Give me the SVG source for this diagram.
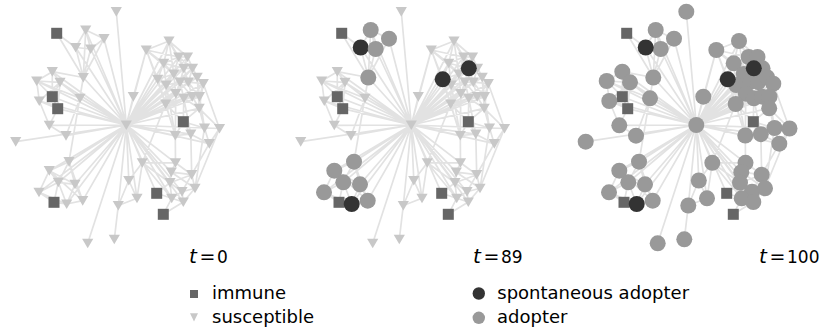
<svg xmlns="http://www.w3.org/2000/svg" xmlns:xlink="http://www.w3.org/1999/xlink" width="830" height="332" viewBox="0 0 830 332">
<style>
.edge{fill:none;stroke:#e2e2e2;stroke-width:1.7}
.su{fill:#c8c8c8}
.im{fill:#666}
.ad{fill:#999}
.sp{fill:#333}
.lbl{font-family:"DejaVu Sans",sans-serif;font-size:17px;fill:#000}
.tv{font-style:italic;font-size:20px}
.eq{font-size:19px}
.leg{font-family:"DejaVu Sans",sans-serif;font-size:18px;fill:#000}
</style>
<defs>
<path id="tri" d="M-5.6,-4.6H5.6L0,5Z"/>
<path id="edgeset" class="edge" d="M126.3 125L116.3 11.7M126.3 125L85.7 30M126.3 125L104 38.7M126.3 125L75.7 47.5M126.3 125L90.7 49M126.3 125L83.3 77.5M126.3 125L52.3 71.7M126.3 125L36.7 81M126.3 125L60 82.3M126.3 125L39.3 101M126.3 125L80 98.3M126.3 125L49.3 125.3M126.3 125L66 135.7M126.3 125L15.7 141.7M126.3 125L133.3 96.7M126.3 125L146.3 50M126.3 125L169 41M126.3 125L163.7 63.3M126.3 125L178.7 57M126.3 125L183.8 68.3M126.3 125L173.8 74M126.3 125L157.7 79.3M126.3 125L166.2 85M126.3 125L180 82.2M126.3 125L197.2 77.3M126.3 125L203.3 83.7M126.3 125L175.8 93.7M126.3 125L183.8 98.3M126.3 125L165.7 104M126.3 125L199.2 108.3M126.3 125L204.5 128M126.3 125L219.5 128.5M126.3 125L209.3 143.7M126.3 125L175.3 135.5M126.3 125L190.8 134.2M126.3 125L69 161.7M126.3 125L49.3 170.7M126.3 125L58.3 182.3M126.3 125L75 184.3M126.3 125L39 192.3M126.3 125L66.7 204M126.3 125L82.7 200.7M126.3 125L87.7 243.3M126.3 125L118.3 205.5M126.3 125L128.8 180.5M126.3 125L137 198.3M126.3 125L142.3 162.8M126.3 125L175.5 162.8M126.3 125L171.3 172.2M126.3 125L170 182.7M126.3 125L182 191.7M126.3 125L171.7 198.3M126.3 125L183.3 202M126.3 125L52.3 96.7M126.3 125L57.7 108.7M126.3 125L156.7 193.3M126.3 125L187.5 57M126.3 125L192.5 68.3M126.3 125L188.3 82.2M126.3 125L192.2 96.7M126.3 125L199.5 96.7
M85.7 30L104 38.7M85.7 30L75.7 47.5M85.7 30L90.7 49M104 38.7L90.7 49M75.7 47.5L90.7 49M75.7 47.5L83.3 77.5M90.7 49L83.3 77.5M104 38.7L83.3 77.5M56.7 33.3L75.7 47.5M56.7 33.3L83.3 77.5M85.7 30L83.3 77.5
M52.3 71.7L36.7 81M52.3 71.7L60 82.3M36.7 81L60 82.3M36.7 81L39.3 101M60 82.3L39.3 101M52.3 71.7L52.3 96.7M36.7 81L52.3 96.7M60 82.3L52.3 96.7M39.3 101L57.7 108.7M60 82.3L57.7 108.7M52.3 96.7L57.7 108.7M39.3 101L49.3 125.3M49.3 125.3L66 135.7M57.7 108.7L49.3 125.3M60 82.3L80 98.3M80 98.3L66 135.7M83.3 77.5L69 161.7M36.7 81L80 98.3M52.3 71.7L83.3 77.5
M146.3 50L169 41M146.3 50L163.7 63.3M146.3 50L157.7 79.3M169 41L163.7 63.3M169 41L178.7 57M169 41L187.5 57M169 41L173.8 74M163.7 63.3L178.7 57M163.7 63.3L183.8 68.3M163.7 63.3L173.8 74M163.7 63.3L157.7 79.3M178.7 57L187.5 57M178.7 57L183.8 68.3M187.5 57L192.5 68.3M183.8 68.3L192.5 68.3M183.8 68.3L173.8 74M183.8 68.3L180 82.2M192.5 68.3L197.2 77.3M192.5 68.3L188.3 82.2M173.8 74L166.2 85M173.8 74L180 82.2M157.7 79.3L166.2 85M166.2 85L175.8 93.7M166.2 85L165.7 104M180 82.2L188.3 82.2M180 82.2L175.8 93.7M188.3 82.2L197.2 77.3M188.3 82.2L192.2 96.7M197.2 77.3L203.3 83.7M203.3 83.7L199.5 96.7M175.8 93.7L183.8 98.3M183.8 98.3L192.2 96.7M192.2 96.7L199.5 96.7M199.5 96.7L199.2 108.3M165.7 104L183.3 121.7M199.2 108.3L183.3 121.7M183.8 98.3L183.3 121.7M199.2 108.3L204.5 128M204.5 128L219.5 128.5M219.5 128.5L209.3 143.7M204.5 128L209.3 143.7M199.2 108.3L219.5 128.5M183.3 121.7L204.5 128M183.3 121.7L175.3 135.5M183.3 121.7L190.8 134.2M175.3 135.5L190.8 134.2M190.8 134.2L209.3 143.7M203.3 83.7L219.5 128.5M199.5 96.7L204.5 128M146.3 50L165.7 104M146.3 50L133.3 96.7M157.7 79.3L175.3 135.5M175.8 93.7L175.3 135.5M175.3 135.5L175.5 162.8M190.8 134.2L191.7 174.7M209.3 143.7L191.7 174.7M204.5 128L195 188.3M165.7 104L142.3 162.8
M146.3 50L178.7 57M146.3 50L173.8 74M169 41L183.8 68.3M163.7 63.3L166.2 85M178.7 57L173.8 74M178.7 57L192.5 68.3M187.5 57L183.8 68.3M187.5 57L197.2 77.3M183.8 68.3L188.3 82.2M192.5 68.3L180 82.2M173.8 74L175.8 93.7M157.7 79.3L175.8 93.7M157.7 79.3L165.7 104M166.2 85L180 82.2M180 82.2L183.8 98.3M180 82.2L192.2 96.7M188.3 82.2L203.3 83.7M188.3 82.2L199.5 96.7M197.2 77.3L199.5 96.7M203.3 83.7L192.2 96.7M175.8 93.7L165.7 104M183.8 98.3L165.7 104M192.2 96.7L199.2 108.3M183.8 98.3L199.2 108.3M175.8 93.7L192.2 96.7M173.8 74L157.7 79.3M166.2 85L183.8 98.3M163.7 63.3L180 82.2M203.3 83.7L199.2 108.3M197.2 77.3L199.2 108.3M165.7 104L175.3 135.5M166.2 85L175.3 135.5M183.8 98.3L190.8 134.2M219.5 128.5L195 188.3M209.3 143.7L182 191.7
M142.3 162.8L175.5 162.8M175.5 162.8L171.3 172.2M175.5 162.8L191.7 174.7M171.3 172.2L191.7 174.7M171.3 172.2L170 182.7M191.7 174.7L195 188.3M170 182.7L182 191.7M182 191.7L195 188.3M170 182.7L171.7 198.3M182 191.7L171.7 198.3M182 191.7L183.3 202M171.7 198.3L183.3 202M195 188.3L183.3 202M156.7 193.3L171.7 198.3M156.7 193.3L170 182.7M163.3 214.3L171.7 198.3M163.3 214.3L183.3 202M142.3 162.8L170 182.7M142.3 162.8L171.7 198.3M171.3 172.2L195 188.3M191.7 174.7L170 182.7
M114.3 239.3L118.3 205.5M118.3 205.5L137 198.3M137 198.3L128.8 180.5M137 198.3L142.3 162.8M118.3 205.5L128.8 180.5M128.8 180.5L142.3 162.8
M69 161.7L49.3 170.7M69 161.7L58.3 182.3M69 161.7L75 184.3M49.3 170.7L58.3 182.3M49.3 170.7L75 184.3M49.3 170.7L39 192.3M58.3 182.3L75 184.3M58.3 182.3L39 192.3M58.3 182.3L66.7 204M75 184.3L66.7 204M75 184.3L82.7 200.7M66.7 204L82.7 200.7M39 192.3L54 202.3M58.3 182.3L54 202.3M66.7 204L54 202.3M69 161.7L82.7 200.7M49.3 170.7L82.7 200.7M39 192.3L66.7 204"/>
</defs>
<rect width="830" height="332" fill="#fff"/>
<g id="connectors">
<use href="#edgeset"/>
<use href="#edgeset" transform="translate(285,0)"/>
<use href="#edgeset" transform="translate(570,0)"/>
</g>
<g id="panel-t0">
<g id="a-s1"><rect class="im" x="51.2" y="27.8" width="11" height="11"/></g>
<g id="a-s2"><rect class="im" x="46.8" y="91.2" width="11" height="11"/></g>
<g id="a-s3"><rect class="im" x="52.2" y="103.2" width="11" height="11"/></g>
<g id="a-s4"><rect class="im" x="177.8" y="116.2" width="11" height="11"/></g>
<g id="a-s5"><rect class="im" x="151.2" y="187.8" width="11" height="11"/></g>
<g id="a-s6"><rect class="im" x="157.8" y="208.8" width="11" height="11"/></g>
<g id="a-s7"><rect class="im" x="48.5" y="196.8" width="11" height="11"/></g>
<g id="a-n1"><use href="#tri" class="su" x="116.3" y="11.7"/></g>
<g id="a-n2"><use href="#tri" class="su" x="85.7" y="30"/></g>
<g id="a-n3"><use href="#tri" class="su" x="104" y="38.7"/></g>
<g id="a-n4"><use href="#tri" class="su" x="75.7" y="47.5"/></g>
<g id="a-n5"><use href="#tri" class="su" x="90.7" y="49"/></g>
<g id="a-n6"><use href="#tri" class="su" x="83.3" y="77.5"/></g>
<g id="a-n7"><use href="#tri" class="su" x="52.3" y="71.7"/></g>
<g id="a-n8"><use href="#tri" class="su" x="36.7" y="81"/></g>
<g id="a-n9"><use href="#tri" class="su" x="60" y="82.3"/></g>
<g id="a-n10"><use href="#tri" class="su" x="39.3" y="101"/></g>
<g id="a-n11"><use href="#tri" class="su" x="80" y="98.3"/></g>
<g id="a-n12"><use href="#tri" class="su" x="49.3" y="125.3"/></g>
<g id="a-n13"><use href="#tri" class="su" x="66" y="135.7"/></g>
<g id="a-n14"><use href="#tri" class="su" x="15.7" y="141.7"/></g>
<g id="a-hub"><use href="#tri" class="su" x="126.3" y="125"/></g>
<g id="a-n16"><use href="#tri" class="su" x="133.3" y="96.7"/></g>
<g id="a-n17"><use href="#tri" class="su" x="146.3" y="50"/></g>
<g id="a-n18"><use href="#tri" class="su" x="169" y="41"/></g>
<g id="a-n19"><use href="#tri" class="su" x="163.7" y="63.3"/></g>
<g id="a-n20"><use href="#tri" class="su" x="178.7" y="57"/></g>
<g id="a-n21"><use href="#tri" class="su" x="187.5" y="57"/></g>
<g id="a-n22"><use href="#tri" class="su" x="183.8" y="68.3"/></g>
<g id="a-n23"><use href="#tri" class="su" x="192.5" y="68.3"/></g>
<g id="a-n24"><use href="#tri" class="su" x="173.8" y="74"/></g>
<g id="a-n25"><use href="#tri" class="su" x="157.7" y="79.3"/></g>
<g id="a-n26"><use href="#tri" class="su" x="166.2" y="85"/></g>
<g id="a-n27"><use href="#tri" class="su" x="180" y="82.2"/></g>
<g id="a-n28"><use href="#tri" class="su" x="188.3" y="82.2"/></g>
<g id="a-n29"><use href="#tri" class="su" x="197.2" y="77.3"/></g>
<g id="a-n30"><use href="#tri" class="su" x="203.3" y="83.7"/></g>
<g id="a-n31"><use href="#tri" class="su" x="175.8" y="93.7"/></g>
<g id="a-n32"><use href="#tri" class="su" x="183.8" y="98.3"/></g>
<g id="a-n33"><use href="#tri" class="su" x="192.2" y="96.7"/></g>
<g id="a-n34"><use href="#tri" class="su" x="199.5" y="96.7"/></g>
<g id="a-n35"><use href="#tri" class="su" x="165.7" y="104"/></g>
<g id="a-n36"><use href="#tri" class="su" x="199.2" y="108.3"/></g>
<g id="a-n37"><use href="#tri" class="su" x="204.5" y="128"/></g>
<g id="a-n38"><use href="#tri" class="su" x="219.5" y="128.5"/></g>
<g id="a-n39"><use href="#tri" class="su" x="209.3" y="143.7"/></g>
<g id="a-n40"><use href="#tri" class="su" x="175.3" y="135.5"/></g>
<g id="a-n41"><use href="#tri" class="su" x="190.8" y="134.2"/></g>
<g id="a-n42"><use href="#tri" class="su" x="69" y="161.7"/></g>
<g id="a-n43"><use href="#tri" class="su" x="49.3" y="170.7"/></g>
<g id="a-n44"><use href="#tri" class="su" x="58.3" y="182.3"/></g>
<g id="a-n45"><use href="#tri" class="su" x="75" y="184.3"/></g>
<g id="a-n46"><use href="#tri" class="su" x="39" y="192.3"/></g>
<g id="a-n47"><use href="#tri" class="su" x="66.7" y="204"/></g>
<g id="a-n48"><use href="#tri" class="su" x="82.7" y="200.7"/></g>
<g id="a-n49"><use href="#tri" class="su" x="87.7" y="243.3"/></g>
<g id="a-n50"><use href="#tri" class="su" x="114.3" y="239.3"/></g>
<g id="a-n51"><use href="#tri" class="su" x="118.3" y="205.5"/></g>
<g id="a-n52"><use href="#tri" class="su" x="128.8" y="180.5"/></g>
<g id="a-n53"><use href="#tri" class="su" x="137" y="198.3"/></g>
<g id="a-n54"><use href="#tri" class="su" x="142.3" y="162.8"/></g>
<g id="a-n55"><use href="#tri" class="su" x="175.5" y="162.8"/></g>
<g id="a-n56"><use href="#tri" class="su" x="171.3" y="172.2"/></g>
<g id="a-n57"><use href="#tri" class="su" x="191.7" y="174.7"/></g>
<g id="a-n58"><use href="#tri" class="su" x="170" y="182.7"/></g>
<g id="a-n59"><use href="#tri" class="su" x="182" y="191.7"/></g>
<g id="a-n60"><use href="#tri" class="su" x="195" y="188.3"/></g>
<g id="a-n61"><use href="#tri" class="su" x="171.7" y="198.3"/></g>
<g id="a-n62"><use href="#tri" class="su" x="183.3" y="202"/></g>
</g>
<g id="panel-t89" transform="translate(285,0)">
<g id="b-s1"><rect class="im" x="51.2" y="27.8" width="11" height="11"/></g>
<g id="b-s2"><rect class="im" x="46.8" y="91.2" width="11" height="11"/></g>
<g id="b-s3"><rect class="im" x="52.2" y="103.2" width="11" height="11"/></g>
<g id="b-s4"><rect class="im" x="177.8" y="116.2" width="11" height="11"/></g>
<g id="b-s5"><rect class="im" x="151.2" y="187.8" width="11" height="11"/></g>
<g id="b-s6"><rect class="im" x="157.8" y="208.8" width="11" height="11"/></g>
<g id="b-s7"><rect class="im" x="48.5" y="196.8" width="11" height="11"/></g>
<g id="b-n1"><use href="#tri" class="su" x="116.3" y="11.7"/></g>
<g id="b-n7"><use href="#tri" class="su" x="52.3" y="71.7"/></g>
<g id="b-n8"><use href="#tri" class="su" x="36.7" y="81"/></g>
<g id="b-n9"><use href="#tri" class="su" x="60" y="82.3"/></g>
<g id="b-n10"><use href="#tri" class="su" x="39.3" y="101"/></g>
<g id="b-n11"><use href="#tri" class="su" x="80" y="98.3"/></g>
<g id="b-n12"><use href="#tri" class="su" x="49.3" y="125.3"/></g>
<g id="b-n13"><use href="#tri" class="su" x="66" y="135.7"/></g>
<g id="b-n14"><use href="#tri" class="su" x="15.7" y="141.7"/></g>
<g id="b-hub"><use href="#tri" class="su" x="126.3" y="125"/></g>
<g id="b-n16"><use href="#tri" class="su" x="133.3" y="96.7"/></g>
<g id="b-n17"><use href="#tri" class="su" x="146.3" y="50"/></g>
<g id="b-n18"><use href="#tri" class="su" x="169" y="41"/></g>
<g id="b-n19"><use href="#tri" class="su" x="163.7" y="63.3"/></g>
<g id="b-n20"><use href="#tri" class="su" x="178.7" y="57"/></g>
<g id="b-n21"><use href="#tri" class="su" x="187.5" y="57"/></g>
<g id="b-n23"><use href="#tri" class="su" x="192.5" y="68.3"/></g>
<g id="b-n24"><use href="#tri" class="su" x="173.8" y="74"/></g>
<g id="b-n26"><use href="#tri" class="su" x="166.2" y="85"/></g>
<g id="b-n27"><use href="#tri" class="su" x="180" y="82.2"/></g>
<g id="b-n28"><use href="#tri" class="su" x="188.3" y="82.2"/></g>
<g id="b-n29"><use href="#tri" class="su" x="197.2" y="77.3"/></g>
<g id="b-n30"><use href="#tri" class="su" x="203.3" y="83.7"/></g>
<g id="b-n31"><use href="#tri" class="su" x="175.8" y="93.7"/></g>
<g id="b-n32"><use href="#tri" class="su" x="183.8" y="98.3"/></g>
<g id="b-n33"><use href="#tri" class="su" x="192.2" y="96.7"/></g>
<g id="b-n34"><use href="#tri" class="su" x="199.5" y="96.7"/></g>
<g id="b-n35"><use href="#tri" class="su" x="165.7" y="104"/></g>
<g id="b-n36"><use href="#tri" class="su" x="199.2" y="108.3"/></g>
<g id="b-n37"><use href="#tri" class="su" x="204.5" y="128"/></g>
<g id="b-n38"><use href="#tri" class="su" x="219.5" y="128.5"/></g>
<g id="b-n39"><use href="#tri" class="su" x="209.3" y="143.7"/></g>
<g id="b-n40"><use href="#tri" class="su" x="175.3" y="135.5"/></g>
<g id="b-n41"><use href="#tri" class="su" x="190.8" y="134.2"/></g>
<g id="b-n49"><use href="#tri" class="su" x="87.7" y="243.3"/></g>
<g id="b-n50"><use href="#tri" class="su" x="114.3" y="239.3"/></g>
<g id="b-n51"><use href="#tri" class="su" x="118.3" y="205.5"/></g>
<g id="b-n52"><use href="#tri" class="su" x="128.8" y="180.5"/></g>
<g id="b-n53"><use href="#tri" class="su" x="137" y="198.3"/></g>
<g id="b-n54"><use href="#tri" class="su" x="142.3" y="162.8"/></g>
<g id="b-n55"><use href="#tri" class="su" x="175.5" y="162.8"/></g>
<g id="b-n56"><use href="#tri" class="su" x="171.3" y="172.2"/></g>
<g id="b-n57"><use href="#tri" class="su" x="191.7" y="174.7"/></g>
<g id="b-n58"><use href="#tri" class="su" x="170" y="182.7"/></g>
<g id="b-n59"><use href="#tri" class="su" x="182" y="191.7"/></g>
<g id="b-n60"><use href="#tri" class="su" x="195" y="188.3"/></g>
<g id="b-n61"><use href="#tri" class="su" x="171.7" y="198.3"/></g>
<g id="b-n62"><use href="#tri" class="su" x="183.3" y="202"/></g>
<g id="b-n2"><circle class="ad" cx="85.7" cy="30" r="8"/></g>
<g id="b-n3"><circle class="ad" cx="104" cy="38.7" r="8"/></g>
<g id="b-n4"><circle class="sp" cx="75.7" cy="47.5" r="8"/></g>
<g id="b-n5"><circle class="ad" cx="90.7" cy="49" r="8"/></g>
<g id="b-n6"><circle class="ad" cx="83.3" cy="77.5" r="8"/></g>
<g id="b-n42"><circle class="ad" cx="69" cy="161.7" r="8"/></g>
<g id="b-n43"><circle class="ad" cx="49.3" cy="170.7" r="8"/></g>
<g id="b-n44"><circle class="ad" cx="58.3" cy="182.3" r="8"/></g>
<g id="b-n45"><circle class="ad" cx="75" cy="184.3" r="8"/></g>
<g id="b-n46"><circle class="ad" cx="39" cy="192.3" r="8"/></g>
<g id="b-n48"><circle class="ad" cx="82.7" cy="200.7" r="8"/></g>
<g id="b-n47"><circle class="sp" cx="66.7" cy="204" r="8"/></g>
<g id="b-n22"><circle class="sp" cx="183.8" cy="68.3" r="8"/></g>
<g id="b-n25"><circle class="sp" cx="157.7" cy="79.3" r="8"/></g>
</g>
<g id="panel-t100" transform="translate(570,0)">
<g id="c-s1"><rect class="im" x="51.2" y="27.8" width="11" height="11"/></g>
<g id="c-s2"><rect class="im" x="46.8" y="91.2" width="11" height="11"/></g>
<g id="c-s3"><rect class="im" x="52.2" y="103.2" width="11" height="11"/></g>
<g id="c-s4"><rect class="im" x="177.8" y="116.2" width="11" height="11"/></g>
<g id="c-s5"><rect class="im" x="151.2" y="187.8" width="11" height="11"/></g>
<g id="c-s6"><rect class="im" x="157.8" y="208.8" width="11" height="11"/></g>
<g id="c-s7"><rect class="im" x="48.5" y="196.8" width="11" height="11"/></g>
<g id="c-n1"><circle class="ad" cx="116.3" cy="11.7" r="8"/></g>
<g id="c-n2"><circle class="ad" cx="85.7" cy="30" r="8"/></g>
<g id="c-n3"><circle class="ad" cx="104" cy="38.7" r="8"/></g>
<g id="c-n5"><circle class="ad" cx="90.7" cy="49" r="8"/></g>
<g id="c-n6"><circle class="ad" cx="83.3" cy="77.5" r="8"/></g>
<g id="c-n7"><circle class="ad" cx="52.3" cy="71.7" r="8"/></g>
<g id="c-n8"><circle class="ad" cx="36.7" cy="81" r="8"/></g>
<g id="c-n9"><circle class="ad" cx="60" cy="82.3" r="8"/></g>
<g id="c-n10"><circle class="ad" cx="39.3" cy="101" r="8"/></g>
<g id="c-n11"><circle class="ad" cx="80" cy="98.3" r="8"/></g>
<g id="c-n12"><circle class="ad" cx="49.3" cy="125.3" r="8"/></g>
<g id="c-n13"><circle class="ad" cx="66" cy="135.7" r="8"/></g>
<g id="c-n14"><circle class="ad" cx="15.7" cy="141.7" r="8"/></g>
<g id="c-hub"><circle class="ad" cx="126.3" cy="125" r="8"/></g>
<g id="c-n16"><circle class="ad" cx="133.3" cy="96.7" r="8"/></g>
<g id="c-n17"><circle class="ad" cx="146.3" cy="50" r="8"/></g>
<g id="c-n18"><circle class="ad" cx="169" cy="41" r="8"/></g>
<g id="c-n19"><circle class="ad" cx="163.7" cy="63.3" r="8"/></g>
<g id="c-n20"><circle class="ad" cx="178.7" cy="57" r="8"/></g>
<g id="c-n21"><circle class="ad" cx="187.5" cy="57" r="8"/></g>
<g id="c-n23"><circle class="ad" cx="192.5" cy="68.3" r="8"/></g>
<g id="c-n24"><circle class="ad" cx="173.8" cy="74" r="8"/></g>
<g id="c-n26"><circle class="ad" cx="166.2" cy="85" r="8"/></g>
<g id="c-n27"><circle class="ad" cx="180" cy="82.2" r="8"/></g>
<g id="c-n28"><circle class="ad" cx="188.3" cy="82.2" r="8"/></g>
<g id="c-n29"><circle class="ad" cx="197.2" cy="77.3" r="8"/></g>
<g id="c-n30"><circle class="ad" cx="203.3" cy="83.7" r="8"/></g>
<g id="c-n31"><circle class="ad" cx="175.8" cy="93.7" r="8"/></g>
<g id="c-n32"><circle class="ad" cx="183.8" cy="98.3" r="8"/></g>
<g id="c-n33"><circle class="ad" cx="192.2" cy="96.7" r="8"/></g>
<g id="c-n34"><circle class="ad" cx="199.5" cy="96.7" r="8"/></g>
<g id="c-n35"><circle class="ad" cx="165.7" cy="104" r="8"/></g>
<g id="c-n36"><circle class="ad" cx="199.2" cy="108.3" r="8"/></g>
<g id="c-n37"><circle class="ad" cx="204.5" cy="128" r="8"/></g>
<g id="c-n38"><circle class="ad" cx="219.5" cy="128.5" r="8"/></g>
<g id="c-n39"><circle class="ad" cx="209.3" cy="143.7" r="8"/></g>
<g id="c-n40"><circle class="ad" cx="175.3" cy="135.5" r="8"/></g>
<g id="c-n41"><circle class="ad" cx="190.8" cy="134.2" r="8"/></g>
<g id="c-n42"><circle class="ad" cx="69" cy="161.7" r="8"/></g>
<g id="c-n43"><circle class="ad" cx="49.3" cy="170.7" r="8"/></g>
<g id="c-n44"><circle class="ad" cx="58.3" cy="182.3" r="8"/></g>
<g id="c-n45"><circle class="ad" cx="75" cy="184.3" r="8"/></g>
<g id="c-n46"><circle class="ad" cx="39" cy="192.3" r="8"/></g>
<g id="c-n48"><circle class="ad" cx="82.7" cy="200.7" r="8"/></g>
<g id="c-n49"><circle class="ad" cx="87.7" cy="243.3" r="8"/></g>
<g id="c-n50"><circle class="ad" cx="114.3" cy="239.3" r="8"/></g>
<g id="c-n51"><circle class="ad" cx="118.3" cy="205.5" r="8"/></g>
<g id="c-n52"><circle class="ad" cx="128.8" cy="180.5" r="8"/></g>
<g id="c-n53"><circle class="ad" cx="137" cy="198.3" r="8"/></g>
<g id="c-n54"><circle class="ad" cx="142.3" cy="162.8" r="8"/></g>
<g id="c-n55"><circle class="ad" cx="175.5" cy="162.8" r="8"/></g>
<g id="c-n56"><circle class="ad" cx="171.3" cy="172.2" r="8"/></g>
<g id="c-n57"><circle class="ad" cx="191.7" cy="174.7" r="8"/></g>
<g id="c-n58"><circle class="ad" cx="170" cy="182.7" r="8"/></g>
<g id="c-n59"><circle class="ad" cx="182" cy="191.7" r="8"/></g>
<g id="c-n60"><circle class="ad" cx="195" cy="188.3" r="8"/></g>
<g id="c-n61"><circle class="ad" cx="171.7" cy="198.3" r="8"/></g>
<g id="c-n62"><circle class="ad" cx="183.3" cy="202" r="8"/></g>
<g id="c-n4"><circle class="sp" cx="75.7" cy="47.5" r="8"/></g>
<g id="c-n47"><circle class="sp" cx="66.7" cy="204" r="8"/></g>
<g id="c-n22"><circle class="sp" cx="183.8" cy="68.3" r="8"/></g>
<g id="c-n25"><circle class="sp" cx="157.7" cy="79.3" r="8"/></g>
</g>
<g id="labels">
<text class="lbl" y="263"><tspan class="tv" x="189">t</tspan><tspan class="eq" x="199.5">=</tspan><tspan x="217">0</tspan></text>
<text class="lbl" y="263"><tspan class="tv" x="473">t</tspan><tspan class="eq" x="483.5">=</tspan><tspan x="501">89</tspan></text>
<text class="lbl" y="263"><tspan class="tv" x="759">t</tspan><tspan class="eq" x="769.5">=</tspan><tspan x="787">100</tspan></text>
</g>
<g id="legend">
<g id="leg-immune"><rect class="im" x="190" y="290" width="8" height="8"/><text class="leg" x="212" y="298.5">immune</text></g>
<g id="leg-susceptible"><path class="su" d="M190,313.2H198L194,321.5Z"/><text class="leg" x="212" y="322.5">susceptible</text></g>
<g id="leg-spontaneous"><circle class="sp" cx="478.8" cy="293.5" r="6.2"/><text class="leg" x="497.3" y="298.5">spontaneous adopter</text></g>
<g id="leg-adopter"><circle class="ad" cx="478.8" cy="317.8" r="6.2"/><text class="leg" x="497" y="322.5">adopter</text></g>
</g>
</svg>
